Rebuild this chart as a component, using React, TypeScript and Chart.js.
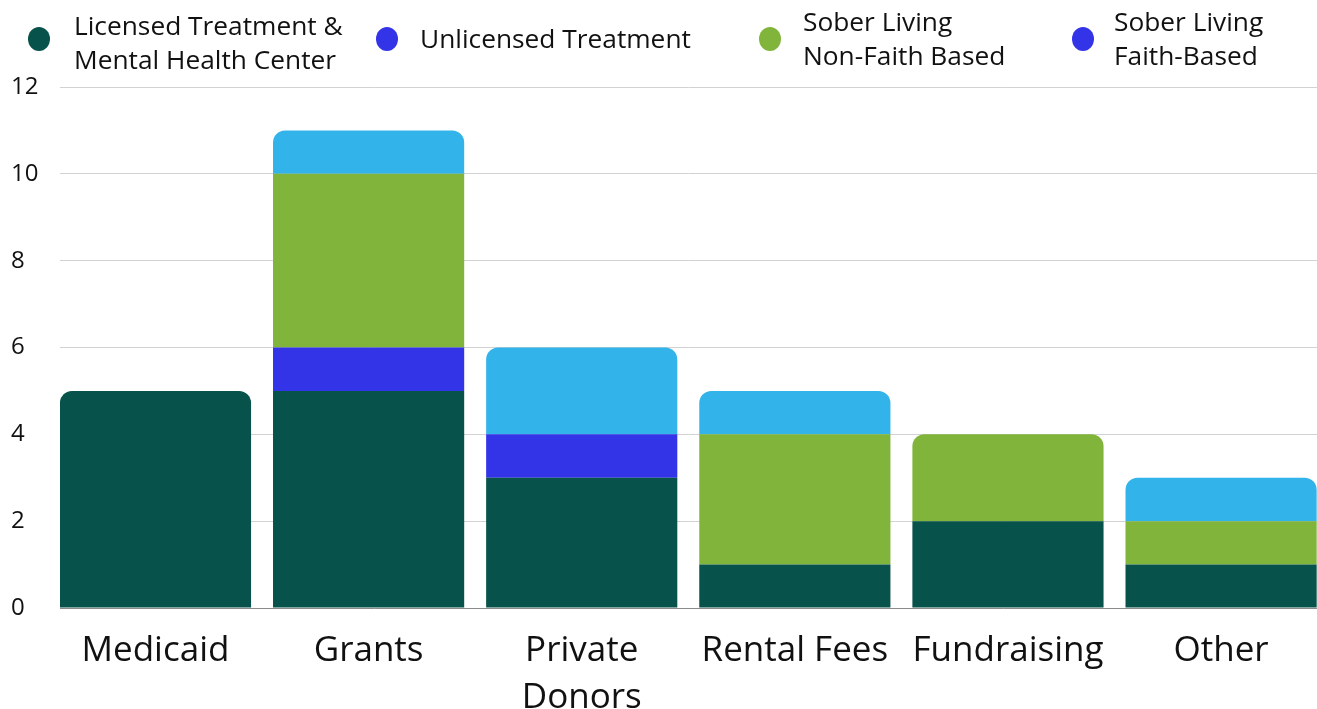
import React, { useEffect, useRef } from "react";
import { Chart, registerables } from "chart.js";

Chart.register(...registerables);

// ---- data ----
const categories: string[][] = [
  ["Medicaid"],
  ["Grants"],
  ["Private", "Donors"],
  ["Rental Fees"],
  ["Fundraising"],
  ["Other"],
];
const licensedTreatment = [5, 5, 3, 1, 2, 1];
const unlicensedTreatment = [0, 1, 1, 0, 0, 0];
const soberNonFaith = [0, 4, 0, 3, 2, 1];
const soberFaith = [0, 1, 2, 1, 0, 1];
const seriesNames = [
  "Licensed Treatment &\nMental Health Center",
  "Unlicensed Treatment",
  "Sober Living\nNon-Faith Based",
  "Sober Living\nFaith-Based",
];
const barColors = ["#07524a", "#3333e8", "#80b43b", "#32b3e9"];
const legendDotColors = ["#07524a", "#3333e8", "#80b43b", "#3333e8"];
const yTickValues = [0, 2, 4, 6, 8, 10, 12];

const legendLayout = [
  { dotX: 39, textX: 74, top: 8 },
  { dotX: 387, textX: 420, top: 21 },
  { dotX: 770, textX: 803, top: 4 },
  { dotX: 1083, textX: 1114, top: 4 },
];

export default function App() {
  const canvasRef = useRef<HTMLCanvasElement | null>(null);

  useEffect(() => {
    document.body.style.margin = "0";
    const canvas = canvasRef.current;
    if (!canvas) return;
    const seriesData = [licensedTreatment, unlicensedTreatment, soberNonFaith, soberFaith];
    const chart = new Chart(canvas, {
      type: "bar",
      data: {
        labels: categories.map((_, i) => i),
        datasets: seriesNames.map((name, i) => ({
          label: name,
          data: seriesData[i],
          backgroundColor: barColors[i],
          borderRadius: 12,
          borderSkipped: "start",
          categoryPercentage: 1,
          barPercentage: 0.897,
        })),
      },
      options: {
        animation: false,
        responsive: false,
        maintainAspectRatio: false,
        layout: { padding: { top: 87, left: 11, right: 0, bottom: 0 } },
        plugins: { legend: { display: false }, tooltip: { enabled: false } },
        scales: {
          x: {
            type: "linear",
            stacked: true,
            offset: false,
            min: -0.448,
            max: 5.45,
            grid: { display: false, drawTicks: false },
            border: { display: true, color: "#8a8a8a", width: 1 },
            afterBuildTicks: (s: any) => {
              s.ticks = categories.map((_, i) => ({ value: i }));
            },
            afterFit: (s: any) => {
              s.height = 101;
            },
            ticks: {
              autoSkip: false,
              maxRotation: 0,
              minRotation: 0,
              padding: 20,
              color: "#111111",
              font: { family: "'Open Sans'", size: 35, lineHeight: 1.34 },
              callback: (v: any) => {
                const c = categories[Math.round(Number(v))];
                if (!c) return "";
                return c.length === 1 ? c[0] : c;
              },
            },
          },
          y: {
            stacked: true,
            min: 0,
            max: 12,
            afterBuildTicks: (s: any) => {
              s.ticks = yTickValues.map((v) => ({ value: v }));
            },
            afterFit: (s: any) => {
              s.width = 49;
            },
            grid: { color: "#d2d2d2", drawTicks: false, lineWidth: 1 },
            border: { display: false },
            ticks: {
              crossAlign: "far",
              color: "#111111",
              font: { family: "'Open Sans'", size: 24 },
            },
          },
        },
      } as any,
    });
    return () => chart.destroy();
  }, []);

  return (
    <div style={{ position: "relative", width: 1317, height: 709, background: "#fff", overflow: "hidden" }}>
      <canvas ref={canvasRef} width={1317} height={709} style={{ position: "absolute", left: 0, top: 0 }} />
      {seriesNames.map((name, i) => (
        <React.Fragment key={name}>
          <div
            style={{
              position: "absolute",
              left: legendLayout[i].dotX - 11,
              top: 27,
              width: 22,
              height: 24,
              borderRadius: "50%",
              background: legendDotColors[i],
            }}
          />
          <div
            style={{
              position: "absolute",
              left: legendLayout[i].textX,
              top: legendLayout[i].top,
              fontFamily: "'Open Sans', sans-serif",
              fontSize: 26.3,
              lineHeight: "34px",
              color: "#111111",
              whiteSpace: "pre-line",
            }}
          >
            {name}
          </div>
        </React.Fragment>
      ))}
    </div>
  );
}
